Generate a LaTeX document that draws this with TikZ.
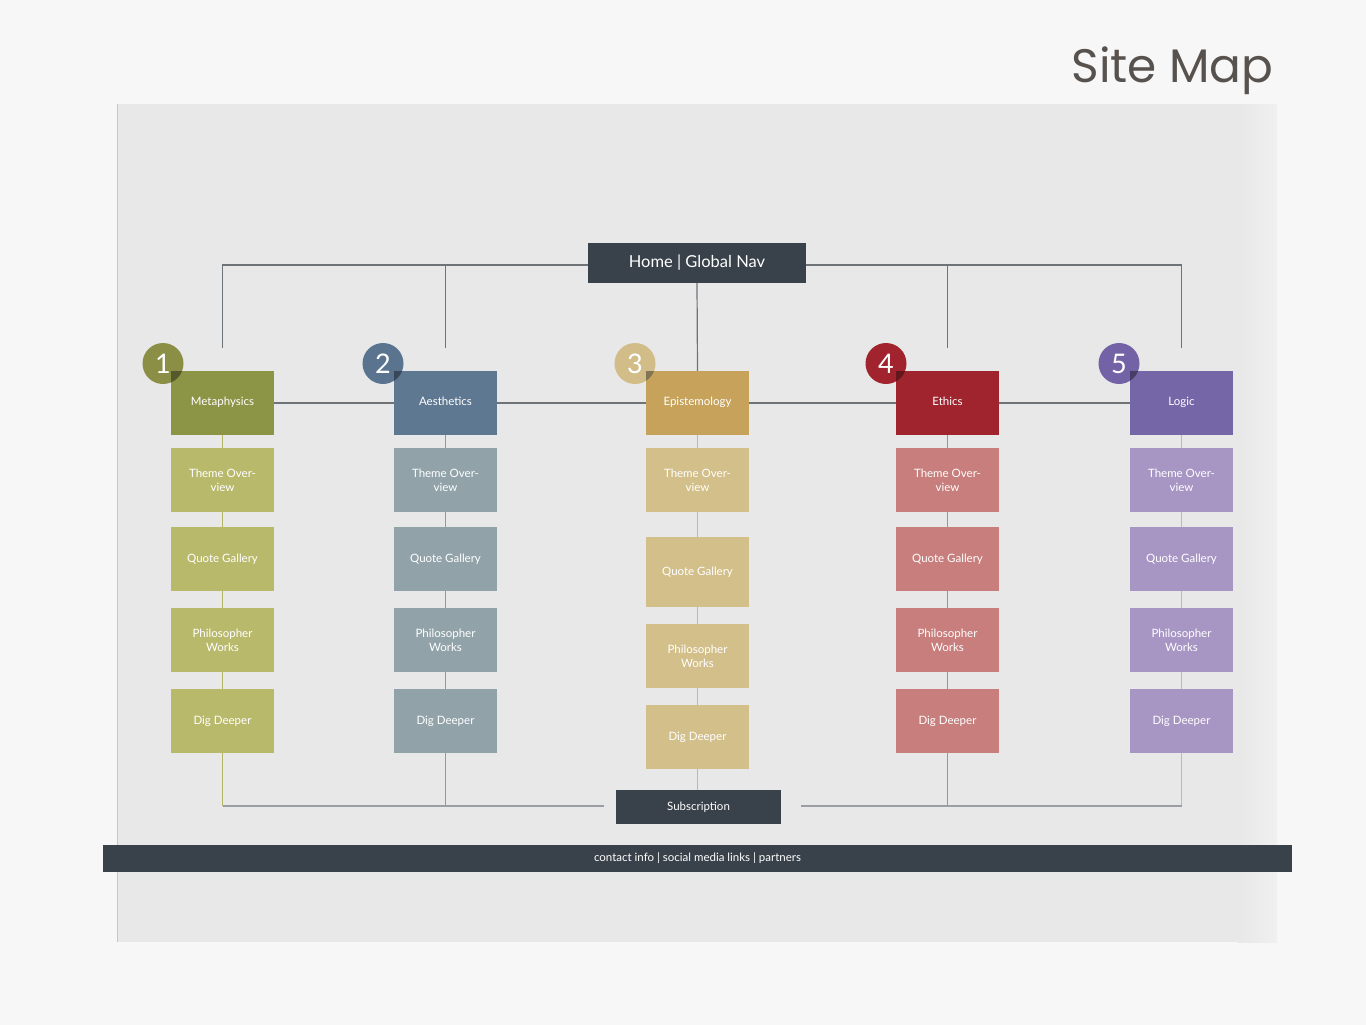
\documentclass[tikz,border=0pt]{standalone}
\usepackage{fontspec}
\setmainfont{Lato}
\newfontfamily\titlefont{Poppins}
\usetikzlibrary{positioning}

% page and chrome
\definecolor{pagebg}{HTML}{F7F7F7}
\definecolor{panel}{HTML}{E8E8E8}
\definecolor{panelhi}{HTML}{F0F0F0}
\definecolor{navdark}{HTML}{39414A}
\definecolor{titlegrey}{HTML}{58524E}
\definecolor{wire}{HTML}{6E7378}
\definecolor{wirelight}{HTML}{9B9FA3}
% column palettes
\definecolor{dark1}{HTML}{8C9445}\definecolor{light1}{HTML}{B9B96C}\definecolor{circ1}{HTML}{8A8F45}\definecolor{line1}{HTML}{B5B56A}
\definecolor{dark2}{HTML}{5F7891}\definecolor{light2}{HTML}{91A3A9}\definecolor{circ2}{HTML}{5A7490}\definecolor{line2}{HTML}{8E9CA2}
\definecolor{dark3}{HTML}{C6A25A}\definecolor{light3}{HTML}{D3BF8A}\definecolor{circ3}{HTML}{D2BD88}\definecolor{line3}{HTML}{CDB782}
\definecolor{dark4}{HTML}{A0242E}\definecolor{light4}{HTML}{C77E7C}\definecolor{circ4}{HTML}{A0232D}\definecolor{line4}{HTML}{8C9A9C}
\definecolor{dark5}{HTML}{7566A8}\definecolor{light5}{HTML}{A796C3}\definecolor{circ5}{HTML}{7362A6}\definecolor{line5}{HTML}{C2C27A}

\tikzset{
  box/.style={minimum width=103pt, minimum height=64pt, inner sep=0pt,
    text=white, align=center, font=\fontsize{11.5}{14}\selectfont},
  badge/.style={circle, minimum size=41pt, inner sep=0pt, text=white,
    font=\fontsize{27}{27}\selectfont},
  navbox/.style={fill=navdark, inner sep=0pt, text=white},
  wireline/.style={draw=wire, line width=1.2pt},
}

\begin{document}
\begin{tikzpicture}[x=1pt, y=-1pt]
  \useasboundingbox (0,0) rectangle (1366,1025);
  \fill[pagebg] (0,0) rectangle (1366,1025);

  % background panel with a soft lighter right edge
  \fill[panel] (117,104) rectangle (1277,942);
  \shade[left color=panel, right color=panelhi] (1238,104) rectangle (1277,942);
  \draw[draw=black!22, line width=1.2pt] (117.5,104) -- (117.5,942);

  % title
  \node[anchor=base east, text=titlegrey,
        font=\titlefont\fontsize{47}{47}\selectfont] (title) at (1277,83) {Site Map};

  % home node
  \node[navbox, minimum width=218pt, minimum height=40pt,
        font=\fontsize{16.5}{18}\selectfont] (home) at (697,263) {Home | Global Nav};

  % branch ends above the badges
  \coordinate (t1) at (222.5,348);
  \coordinate (t2) at (445.5,348);
  \coordinate (t4) at (947.5,348);
  \coordinate (t5) at (1181.5,348);
  \draw[wireline] (home.west) ++(0,2) -| (t1);
  \draw[wireline] (home.west) ++(0,2) -| (t2);
  \draw[wireline] (home.east) ++(0,2) -| (t5);
  \draw[wireline] (home.east) ++(0,2) -| (t4);

  % the five columns
  \foreach \i/\x/\cx/\lbl/\qy/\qh/\py/\dy in {
      1/222.5/163/Metaphysics/559/64/640/721,
      2/445.5/383/Aesthetics/559/64/640/721,
      3/697.5/635/Epistemology/572/70/656/737,
      4/947.5/886/Ethics/559/64/640/721,
      5/1181.5/1119/Logic/559/64/640/721}{
    \node[badge, fill=circ\i] (n\i) at (\cx,363.5) {\i};
    \node[box, fill=dark\i] (c\i) at (\x,403) {\strut\lbl};
    \begin{scope}
      \clip (n\i.center) circle (20.5pt);
      \fill[circ\i!62!black] (c\i.south west) rectangle (c\i.north east);
    \end{scope}
    \node[box, fill=light\i] (o\i) at (\x,480) {Theme Over-\\view};
    \node[box, fill=light\i, minimum height=\qh pt] (q\i) at (\x,\qy) {Quote Gallery};
    \node[box, fill=light\i] (p\i) at (\x,\py) {Philosopher\\Works};
    \node[box, fill=light\i] (d\i) at (\x,\dy) {Dig Deeper};
    \draw[draw=line\i, line width=1pt] (c\i.south) -- (o\i.north);
    \draw[draw=line\i, line width=1pt] (o\i.south) -- (q\i.north);
    \draw[draw=line\i, line width=1pt] (q\i.south) -- (p\i.north);
    \draw[draw=line\i, line width=1pt] (p\i.south) -- (d\i.north);
  }

  % centre trunk
  \draw[wireline] (home.south) -- (c3.north);

  % category row link
  \draw[wireline] (c1.east) -- (c2.west);
  \draw[wireline] (c2.east) -- (c3.west);
  \draw[wireline] (c3.east) -- (c4.west);
  \draw[wireline] (c4.east) -- (c5.west);

  % subscription and its feeders
  \node[navbox, minimum width=165pt, minimum height=34pt,
        font=\fontsize{11.5}{13}\selectfont] (subs) at (698.5,807) {Subscription};
  \coordinate (bl) at (604,806);
  \coordinate (br) at (801,806);
  \draw[draw=line1, line width=1pt] (d1.south) -- (d1.south |- bl);
  \draw[draw=line2, line width=1pt] (d2.south) -- (d2.south |- bl);
  \draw[draw=line4, line width=1pt] (d4.south) -- (d4.south |- br);
  \draw[draw=line5, line width=1pt] (d5.south) -- (d5.south |- br);
  \draw[draw=wirelight, line width=1.8pt] (d1.south |- bl) -- (bl);
  \draw[draw=wirelight, line width=1.8pt] (br) -- (d5.south |- br);
  \draw[draw=line3, line width=1pt] (d3.south) -- (d3.south |- subs.north);

  % footer bar
  \node[navbox, minimum width=1189pt, minimum height=27pt,
        font=\fontsize{11.5}{13}\selectfont] (footer) at (697.5,858.5)
        {contact info | social media links | partners};
\end{tikzpicture}
\end{document}
